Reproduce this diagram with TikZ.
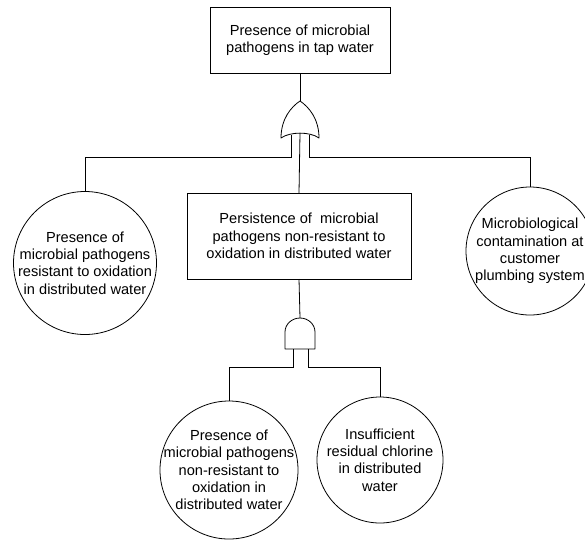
\documentclass[tikz,border=0pt]{standalone}
\usepackage{fontspec}
\setmainfont{Liberation Sans}
\begin{document}
\begin{tikzpicture}[x=1pt,y=-1pt,line width=0.8pt,
  every node/.style={font=\fontsize{14.6}{17.3}\selectfont,align=center,inner sep=0pt,outer sep=0pt},
  eventbox/.style={draw,rectangle},
  basicevent/.style={draw,circle},
  gate/.style={draw,fill=white,line join=round}]
% canvas
\fill[white] (0,0) rectangle (585,539);
\useasboundingbox (0,0) rectangle (585,539);

% top event and intermediate event
\node[eventbox,minimum width=180pt,minimum height=66pt] (top) at (300,40)
  {Presence of microbial\\pathogens in tap water};
\node[eventbox,minimum width=224pt,minimum height=86pt] (mid) at (299,236)
  {Persistence of\ \ microbial\\pathogens non-resistant to\\oxidation in distributed water};

% basic events (text set as centred labels so the circle keeps its size)
\node[basicevent,minimum size=143pt,
  label={center:{Presence of\\microbial pathogens\\resistant to oxidation\\in distributed water}}]
  (resist) at (85,263) {};
\node[basicevent,minimum size=128pt,
  label={center:{Microbiological\\contamination at\\customer\\plumbing system}}]
  (plumb) at (530,251) {};
\node[basicevent,minimum size=138pt,
  label={center:{Presence of\\microbial pathogens\\non-resistant to\\oxidation in\\distributed water}}]
  (nonresist) at (229,470) {};
\node[basicevent,minimum size=126pt,
  label={center:{Insufficient\\residual chlorine\\in distributed\\water}}]
  (chlorine) at (380,460) {};

% OR gate
\coordinate (ortip) at (300,101);
\coordinate (orL) at (291,134.6);
\coordinate (orM) at (300,133.1);
\coordinate (orR) at (309,134.6);
\draw[gate] (281,138) .. controls (281,119) and (291,107) .. (ortip)
  .. controls (309,107) and (319,119) .. (319,138)
  .. controls (310,131.5) and (290,131.5) .. (281,138) -- cycle;

% AND gate
\coordinate (andtop) at (300,318);
\coordinate (andL) at (293,349);
\coordinate (andR) at (308,349);
\draw[gate] (285,349) -- (285,332) .. controls (285,324.3) and (291.7,318) .. (andtop)
  .. controls (308.3,318) and (315,324.3) .. (315,332) -- (315,349) -- cycle;

% connectors
\draw (top.south) -- (ortip);
\draw (orL) -- ++(0,22.4) -| (resist.north);
\draw (orR) -- ++(0,22.4) -| (plumb.north);
\draw (orM) -- (mid.north);
\draw (mid.south) -- (andtop);
\draw (andL) -- ++(0,18) -| (nonresist.north);
\draw (andR) -- ++(0,18) -| (chlorine.north);
\end{tikzpicture}
\end{document}
